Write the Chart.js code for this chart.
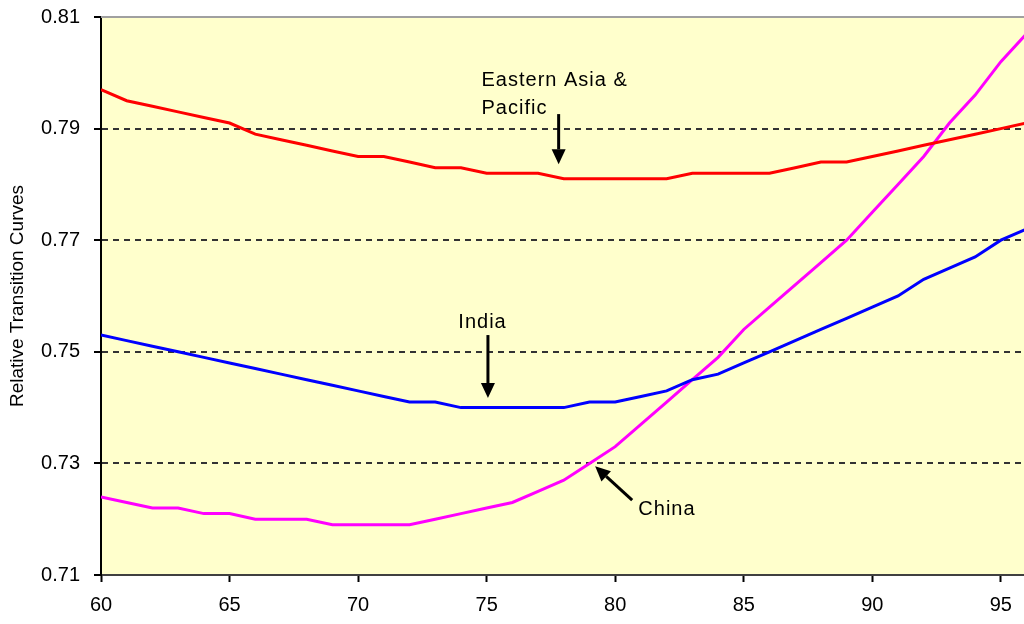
<!DOCTYPE html>
<html>
<head>
<meta charset="utf-8">
<script src="https://cdn.jsdelivr.net/npm/chart.js@4.4.1/dist/chart.umd.min.js"></script>
<style>
  html, body { margin: 0; padding: 0; background: #fff; }
</style>
</head>
<body>
<canvas id="chart" width="1024" height="624"></canvas>
<script>
// years on the x axis
const years = [60, 61, 62, 63, 64, 65, 66, 67, 68, 69, 70, 71, 72, 73, 74, 75, 76, 77, 78,
  79, 80, 81, 82, 83, 84, 85, 86, 87, 88, 89, 90, 91, 92, 93, 94, 95, 96];

// relative transition curves
const eastAsia = [0.797, 0.795, 0.794, 0.793, 0.792, 0.791, 0.789, 0.788, 0.787, 0.786, 0.785,
  0.785, 0.784, 0.783, 0.783, 0.782, 0.782, 0.782, 0.781, 0.781, 0.781, 0.781, 0.781, 0.782,
  0.782, 0.782, 0.782, 0.783, 0.784, 0.784, 0.785, 0.786, 0.787, 0.788, 0.789, 0.790, 0.791];
const india = [0.753, 0.752, 0.751, 0.750, 0.749, 0.748, 0.747, 0.746, 0.745, 0.744, 0.743,
  0.742, 0.741, 0.741, 0.740, 0.740, 0.740, 0.740, 0.740, 0.741, 0.741, 0.742, 0.743, 0.745,
  0.746, 0.748, 0.750, 0.752, 0.754, 0.756, 0.758, 0.760, 0.763, 0.765, 0.767, 0.770, 0.772];
const china = [0.724, 0.723, 0.722, 0.722, 0.721, 0.721, 0.720, 0.720, 0.720, 0.719, 0.719,
  0.719, 0.719, 0.720, 0.721, 0.722, 0.723, 0.725, 0.727, 0.730, 0.733, 0.737, 0.741, 0.745,
  0.749, 0.754, 0.758, 0.762, 0.766, 0.770, 0.775, 0.780, 0.785, 0.791, 0.796, 0.802, 0.807];

const xTicks = [60, 65, 70, 75, 80, 85, 90, 95];
const yTicks = [0.71, 0.73, 0.75, 0.77, 0.79, 0.81];

// labels with arrows: text baseline position, arrow tail and tip in data units
const notes = [
  { lines: ["Eastern Asia &", "Pacific"], tx: 74.8, ty: 0.7976, tail: [77.8, 0.7926], tip: [77.8, 0.7836] },
  { lines: ["India"], tx: 73.9, ty: 0.7543, tail: [75.05, 0.7530], tip: [75.05, 0.7417] },
  { lines: ["China"], tx: 80.9, ty: 0.7208, tail: [80.66, 0.7234], tip: [79.22, 0.7295] }
];

const FONT = "'Liberation Sans', Arial, sans-serif";

const toPoints = (vals) => years.map((x, i) => ({ x, y: vals[i] }));

// no extra room around the axes, the plot box is placed by layout.padding
const noPad = (s) => { s.paddingTop = 0; s.paddingBottom = 0; s.paddingLeft = 0; s.paddingRight = 0; };

const plotBg = {
  id: "plotBg",
  beforeDraw(chart) {
    const { ctx, chartArea: a } = chart;
    ctx.save();
    ctx.fillStyle = "#FFFFCC";
    ctx.fillRect(a.left, a.top, a.right - a.left, a.bottom - a.top);
    ctx.restore();
  },
  afterDraw(chart) {
    const { ctx, chartArea: a } = chart;
    ctx.save();
    ctx.strokeStyle = "#a0a0a0";
    ctx.lineWidth = 2;
    ctx.beginPath();
    ctx.moveTo(a.left, a.top);
    ctx.lineTo(a.right, a.top);
    ctx.stroke();
    ctx.restore();
  }
};

const arrowNotes = {
  id: "arrowNotes",
  afterDatasetsDraw(chart) {
    const { ctx, scales: { x, y } } = chart;
    ctx.save();
    ctx.fillStyle = "#000";
    ctx.strokeStyle = "#000";
    ctx.font = "20px " + FONT;
    ctx.letterSpacing = "1px";
    ctx.textBaseline = "alphabetic";
    notes.forEach(n => {
      n.lines.forEach((t, i) => {
        ctx.fillText(t, x.getPixelForValue(n.tx), y.getPixelForValue(n.ty) + i * 28);
      });
      const x1 = x.getPixelForValue(n.tail[0]), y1 = y.getPixelForValue(n.tail[1]);
      const x2 = x.getPixelForValue(n.tip[0]), y2 = y.getPixelForValue(n.tip[1]);
      const ang = Math.atan2(y2 - y1, x2 - x1);
      const head = 15, half = 7;
      const bx = x2 - head * Math.cos(ang), by = y2 - head * Math.sin(ang);
      ctx.lineWidth = 3;
      ctx.beginPath();
      ctx.moveTo(x1, y1);
      ctx.lineTo(bx, by);
      ctx.stroke();
      ctx.beginPath();
      ctx.moveTo(x2, y2);
      ctx.lineTo(bx + half * Math.sin(ang), by - half * Math.cos(ang));
      ctx.lineTo(bx - half * Math.sin(ang), by + half * Math.cos(ang));
      ctx.closePath();
      ctx.fill();
    });
    ctx.restore();
  }
};

const lineStyle = (color) => ({
  borderColor: color,
  backgroundColor: color,
  borderWidth: 3,
  pointRadius: 0,
  tension: 0,
  fill: false
});

new Chart(document.getElementById("chart"), {
  type: "line",
  data: {
    datasets: [
      { label: "Eastern Asia & Pacific", data: toPoints(eastAsia), ...lineStyle("#FF0000") },
      { label: "India", data: toPoints(india), ...lineStyle("#0000FF") },
      { label: "China", data: toPoints(china), ...lineStyle("#FF00FF") }
    ]
  },
  options: {
    responsive: false,
    animation: false,
    devicePixelRatio: 1,
    layout: { padding: { top: 17, right: 0, left: 0, bottom: 0 }, autoPadding: false },
    plugins: { legend: { display: false }, tooltip: { enabled: false } },
    scales: {
      x: {
        type: "linear",
        min: 60,
        max: 95.9,
        afterFit: (s) => { s.height = 49; noPad(s); },
        afterBuildTicks: (s) => { s.ticks = xTicks.map(v => ({ value: v })); },
        ticks: {
          color: "#000",
          padding: 11,
          includeBounds: false,
          maxRotation: 0,
          font: { family: FONT, size: 20 },
          callback: (v) => String(v)
        },
        grid: { drawOnChartArea: false, drawTicks: true, tickLength: 7, tickColor: "#000", tickWidth: 2 },
        border: { display: true, color: "#404040", width: 2 }
      },
      y: {
        min: 0.71,
        max: 0.81,
        afterFit: (s) => { s.width = 101; noPad(s); },
        afterBuildTicks: (s) => { s.ticks = yTicks.map(v => ({ value: v })); },
        ticks: {
          color: "#000",
          padding: 14,
          font: { family: FONT, size: 20 },
          callback: (v) => Number(v).toFixed(2)
        },
        title: {
          display: true,
          text: "Relative Transition Curves",
          color: "#000",
          font: { family: FONT, size: 19 },
          padding: { top: 6, bottom: 0 }
        },
        grid: {
          drawOnChartArea: true,
          drawTicks: true,
          tickLength: 7,
          tickColor: "#000",
          tickWidth: 2,
          lineWidth: 2,
          color: (c) => (c.tick && c.tick.value > 0.715 && c.tick.value < 0.805) ? "#333333" : "rgba(0,0,0,0)"
        },
        border: { display: true, color: "#000", width: 2, dash: [6, 5] }
      }
    }
  },
  plugins: [plotBg, arrowNotes]
});
</script>
</body>
</html>
